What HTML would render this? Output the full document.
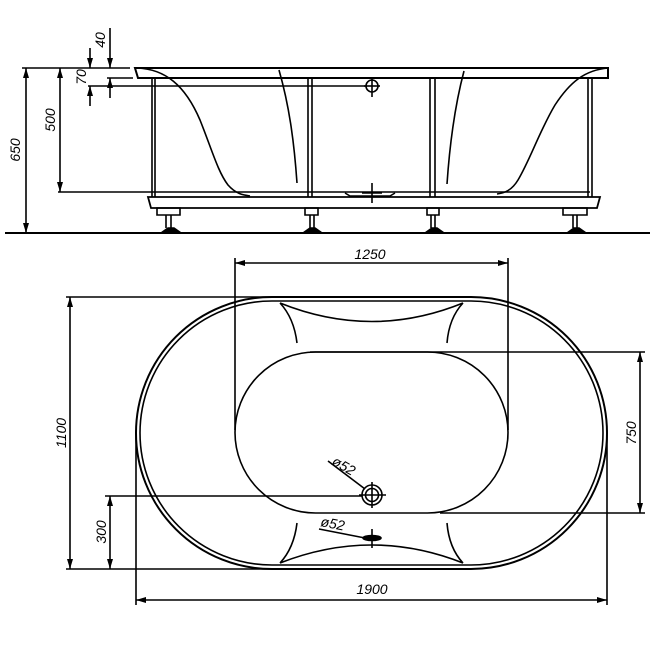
<!DOCTYPE html>
<html><head><meta charset="utf-8"><style>body{margin:0;background:#fff}svg{display:block}text{font-family:"Liberation Sans",sans-serif;font-style:italic;font-size:14px;fill:#000}</style></head><body>
<svg width="654" height="654" viewBox="0 0 654 654" xmlns="http://www.w3.org/2000/svg">
<defs><marker id="a" viewBox="0 0 10 6" refX="10" refY="3" markerWidth="10" markerHeight="6" orient="auto-start-reverse" markerUnits="userSpaceOnUse"><path d="M0,0L10,3L0,6z" fill="#000"/></marker></defs>
<g fill="none" stroke="#000" stroke-width="1.6">
<line x1="5" y1="233" x2="650" y2="233" stroke-width="2"/>
<path d="M135,68 L608,68 L608,78 L138,78 Z" stroke-width="2"/>
<line x1="88" y1="86" x2="367" y2="86"/>
<circle cx="372" cy="86" r="6"/><line x1="372" y1="77" x2="372" y2="97"/><line x1="364" y1="86" x2="380" y2="86"/>
<line x1="58" y1="192" x2="590" y2="192"/>
<path d="M152,78V197M155,78V197M308,78V197M312,78V197M430,78V197M435,78V197M588,78V197M592,78V197"/>
<path d="M148,197 L600,197 L597,208 L151,208 Z" stroke-width="1.8"/>
<path d="M157,208h23v7h-23zM305,208h13v7h-13zM427,208h12v7h-12zM563,208h24v7h-24z"/>
<path d="M166,215v13M171,215v13M310,215v13M314,215v13M431,215v13M435,215v13M573,215v13M577,215v13"/>
<path d="M161,233l7-5h6l7,5zM303,233l7-5h5l7,5zM425,233l7-5h5l7,5zM567,233l7-5h5l7,5z" fill="#000"/>
<path d="M137,68 C165,69 185,85 200,120 C212,150 218,172 228,185 C236,194 243,195 250,196"/>
<path d="M279,70 C289,105 294,140 297,183"/>
<path d="M608,68 C585,70 570,82 555,105 C540,130 530,160 518,180 C512,190 505,193 497,194"/>
<path d="M464,71 C455,105 450,140 447,184"/>
<path d="M345,193 l5,3 h40 l5,-3"/><line x1="372" y1="183" x2="372" y2="203"/><line x1="362" y1="193" x2="382" y2="193"/>
<line x1="22" y1="68" x2="130" y2="68"/>
<line x1="107" y1="78" x2="133" y2="78"/>
<line x1="26" y1="68" x2="26" y2="233" marker-start="url(#a)" marker-end="url(#a)"/>
<line x1="60" y1="68" x2="60" y2="192" marker-start="url(#a)" marker-end="url(#a)"/>
<line x1="90" y1="48" x2="90" y2="68" marker-end="url(#a)"/><line x1="90" y1="106" x2="90" y2="86" marker-end="url(#a)"/>
<line x1="110" y1="28" x2="110" y2="68" marker-end="url(#a)"/><line x1="110" y1="98" x2="110" y2="78" marker-end="url(#a)"/>
<path d="M272,297 H471 A136,136 0 0 1 471,569 H272 A136,136 0 0 1 272,297 Z" stroke-width="2"/>
<path d="M272,301 H471 A132,132 0 0 1 471,565 H272 A132,132 0 0 1 272,301 Z"/>
<path d="M315.5,352 H427.5 A80.5,80.5 0 0 1 427.5,513 H315.5 A80.5,80.5 0 0 1 315.5,352 Z"/>
<path d="M280,303 Q372,340 463,303 M280,303 Q294,318 297,343 M463,303 Q449,318 447,343"/>
<path d="M280,563 Q372,527 463,563 M280,563 Q294,548 297,523 M463,563 Q449,548 447,523"/>
<circle cx="372" cy="495" r="10"/><circle cx="372" cy="495" r="6.5"/>
<line x1="372" y1="482" x2="372" y2="508"/><line x1="359" y1="495" x2="386" y2="495"/>
<line x1="328" y1="461" x2="365" y2="489"/><line x1="319" y1="529" x2="365" y2="538"/>
<ellipse cx="372" cy="538" rx="9" ry="2.5" fill="#000"/><line x1="372" y1="529" x2="372" y2="548"/>
<line x1="235" y1="258" x2="235" y2="430"/><line x1="508" y1="258" x2="508" y2="430"/>
<line x1="235" y1="263" x2="508" y2="263" marker-start="url(#a)" marker-end="url(#a)"/>
<line x1="66" y1="297" x2="275" y2="297"/><line x1="66" y1="569" x2="275" y2="569"/>
<line x1="70" y1="297" x2="70" y2="569" marker-start="url(#a)" marker-end="url(#a)"/>
<line x1="310" y1="352" x2="645" y2="352"/><line x1="440" y1="513" x2="645" y2="513"/>
<line x1="640" y1="352" x2="640" y2="513" marker-start="url(#a)" marker-end="url(#a)"/>
<line x1="105" y1="496" x2="362" y2="496"/>
<line x1="110" y1="496" x2="110" y2="569" marker-start="url(#a)" marker-end="url(#a)"/>
<line x1="136" y1="430" x2="136" y2="605"/><line x1="607" y1="430" x2="607" y2="605"/>
<line x1="136" y1="600" x2="607" y2="600" marker-start="url(#a)" marker-end="url(#a)"/>
</g>
<text x="370" y="259" text-anchor="middle">1250</text>
<text x="372" y="594" text-anchor="middle">1900</text>
<text transform="translate(20,150) rotate(-90)" text-anchor="middle">650</text>
<text transform="translate(55,120) rotate(-90)" text-anchor="middle">500</text>
<text transform="translate(86,77) rotate(-90)" text-anchor="middle">70</text>
<text transform="translate(105,40) rotate(-90)" text-anchor="middle">40</text>
<text transform="translate(66,433) rotate(-90)" text-anchor="middle">1100</text>
<text transform="translate(636,433) rotate(-90)" text-anchor="middle">750</text>
<text transform="translate(106,532) rotate(-90)" text-anchor="middle">300</text>
<text transform="translate(331,464) rotate(30)" font-size="13">ø52</text>
<text transform="translate(320,526) rotate(11)" font-size="13">ø52</text>
</svg>
</body></html>
